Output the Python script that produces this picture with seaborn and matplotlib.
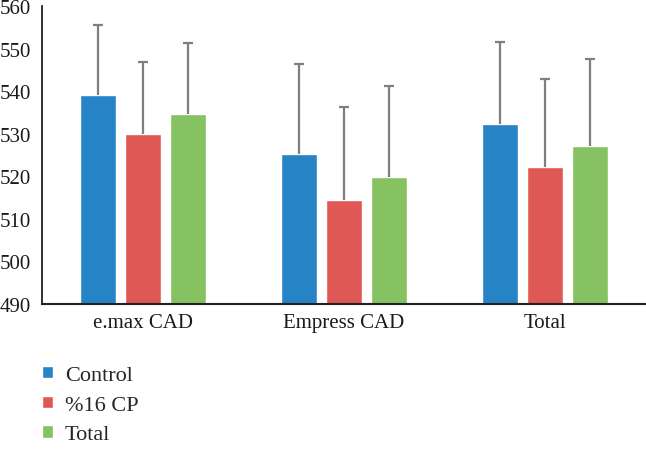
import pandas as pd
import matplotlib.pyplot as plt
import seaborn as sns

# values
groups = ["e.max CAD", "Empress CAD", "Total"]
series = ["Control", "%16 CP", "Total"]
means_control = [539.1, 525.2, 532.2]
means_cp = [529.9, 514.3, 522.2]
means_total = [534.6, 519.8, 527.2]
sd_control = [16.4, 21.2, 19.5]
sd_cp = [17.1, 22.0, 20.6]
sd_total = [16.7, 21.5, 20.3]

colors = ["#2683C6", "#DF5856", "#86C162"]

rows = []
for s, m, sd in zip(series, [means_control, means_cp, means_total], [sd_control, sd_cp, sd_total]):
    for g, v, e in zip(groups, m, sd):
        rows.append({"group": g, "series": s, "mean": v, "sd": e})
df = pd.DataFrame(rows)

sns.set_style("white")
plt.rcParams["font.family"] = ["Liberation Serif", "DejaVu Serif"]

fig = plt.figure(figsize=(6.46, 4.6), dpi=100)
ax = fig.add_axes([0.065, 0.338, 0.935, 0.646])

sns.barplot(data=df, x="group", y="mean", hue="series", hue_order=series,
            palette=colors, width=0.67, gap=0.2, errorbar=None,
            saturation=1, ax=ax)

# one-sided error bars (upper only), placed on the drawn bars
for i, s in enumerate(series):
    sub = df[df["series"] == s].set_index("group").loc[groups]
    bars = ax.containers[i]
    xs = [b.get_x() + b.get_width() / 2 for b in bars]
    eb = ax.errorbar(xs, sub["mean"].values, yerr=[[0] * len(xs), sub["sd"].values],
                     fmt="none", ecolor="#7F7F7F", elinewidth=1.6, capsize=3.5,
                     capthick=1.6, zorder=1)
    eb[1][0].set_visible(False)  # hide the lower cap

ax.set_ylim(490, 560)
ax.set_yticks(range(490, 561, 10))
ax.set_xlim(-0.5, 2.5)
ax.set_xlabel("")
ax.set_ylabel("")
ax.tick_params(axis="both", length=0, labelsize=15, colors="#1a1a1a")
ax.tick_params(axis="y", pad=8)
ax.tick_params(axis="x", pad=7)
sns.despine(ax=ax)
ax.spines["left"].set_color("#222222")
ax.spines["bottom"].set_color("#222222")
ax.spines["left"].set_linewidth(1.3)
ax.spines["bottom"].set_linewidth(1.5)

sns.move_legend(ax, "upper left", bbox_to_anchor=(0.065, 0.202),
                bbox_transform=fig.transFigure, frameon=False, title=None,
                fontsize=16, handlelength=0.48, handleheight=0.48,
                handletextpad=0.55, labelspacing=0.47, borderaxespad=0,
                borderpad=0)

fig.savefig("out.png", dpi=100)
